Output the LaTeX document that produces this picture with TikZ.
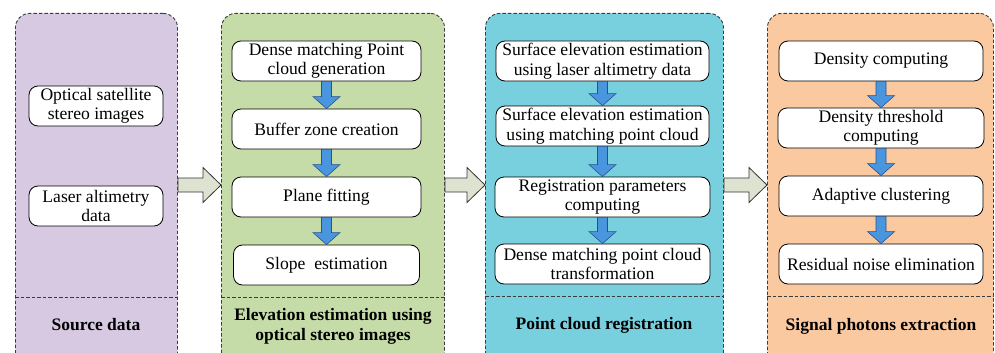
\documentclass[tikz,border=0pt]{standalone}
\usepackage{fontspec}
\setmainfont{Liberation Serif}
\usetikzlibrary{calc}
\definecolor{cpurple}{RGB}{214,201,225}
\definecolor{cgreen}{RGB}{197,219,168}
\definecolor{ccyan}{RGB}{120,208,222}
\definecolor{cpeach}{RGB}{251,201,160}
\definecolor{cbig}{RGB}{221,227,208}
\definecolor{cblue}{RGB}{74,150,222}
\definecolor{cblueline}{RGB}{40,80,140}
\definecolor{cdash}{RGB}{60,60,60}
\tikzset{
  panel/.style={draw=cdash, line width=0.9pt, dash pattern=on 3.5pt off 2pt, rounded corners=14pt, anchor=north west, inner sep=0pt},
  stepbox/.style={draw=black, line width=0.8pt, fill=white, rounded corners=9pt, align=center, inner sep=0pt, minimum height=40pt, font=\fontsize{17.6}{19.5}\selectfont},
  title/.style={align=center, font=\bfseries\fontsize{17.5}{20}\selectfont},
  divline/.style={draw=cdash, line width=0.9pt, dash pattern=on 3.5pt off 2pt},
  bluearr/.style={fill=cblue, draw=cblueline, line width=0.6pt, line join=miter},
  bigarr/.style={fill=cbig, draw=black!80, line width=0.8pt, line join=miter}
}
\newcommand{\myblockdown}[2]{%
  \path let \p1=(#1.south), \p2=(#2.north) in
    [bluearr] (\x1-5pt,\y1) -- (\x1+5pt,\y1) -- (\x1+5pt,\y2+12pt) -- (\x1+13.5pt,\y2+12pt)
    -- (\x1,\y2) -- (\x1-13.5pt,\y2+12pt) -- (\x1-5pt,\y2+12pt) -- cycle;}
\newcommand{\myblockright}[2]{%
  \path let \p1=(#1), \p2=(#2) in
    [bigarr] (\x1,\y1+7pt) -- (\x2-18pt,\y1+7pt) -- (\x2-18pt,\y1+17.5pt) -- (\x2,\y1)
    -- (\x2-18pt,\y1-17.5pt) -- (\x2-18pt,\y1-7pt) -- (\x1,\y1-7pt) -- cycle;}
\begin{document}
\begin{tikzpicture}[x=1pt,y=-1pt]
\useasboundingbox (0,0) rectangle (995,353);
\clip (0,0) rectangle (995,353);
% panels
\node[panel, fill=cpurple, minimum width=162pt, minimum height=355pt] (p1) at (15,13) {};
\node[panel, fill=cgreen, minimum width=223pt, minimum height=355pt] (p2) at (221,13) {};
\node[panel, fill=ccyan, minimum width=238pt, minimum height=355pt] (p3) at (485,13) {};
\node[panel, fill=cpeach, minimum width=226pt, minimum height=355pt] (p4) at (767,13) {};
% dividers
\draw[divline] (p1.west |- 0,297) -- (p1.east |- 0,297);
\draw[divline] (p2.west |- 0,297) -- (p2.east |- 0,297);
\draw[divline] (p3.west |- 0,296) -- (p3.east |- 0,296);
\draw[divline] (p4.west |- 0,296) -- (p4.east |- 0,296);
% titles
\node[title] (t1) at (96,325) {Source data};
\node[title] (t2) at (333,326) {Elevation estimation using\\optical stereo images};
\node[title] (t3) at (604,325) {Point cloud registration};
\node[title] (t4) at (881,326) {Signal photons extraction};
% panel 1
\node[stepbox, minimum width=134pt] (a1) at (96,106) {Optical satellite\\stereo images};
\node[stepbox, minimum width=134pt] (a2) at (96,206) {Laser altimetry\\data};
% panel 2
\node[stepbox, minimum width=189pt] (b1) at (326.5,61) {Dense matching Point\\cloud generation};
\node[stepbox, minimum width=189pt] (b2) at (326.5,129) {Buffer zone creation};
\node[stepbox, minimum width=189pt] (b3) at (326.5,197) {Plane fitting};
\node[stepbox, minimum width=186pt] (b4) at (326.5,265) {Slope\ \ estimation};
% panel 3
\node[stepbox, minimum width=213pt] (c1) at (602.5,61) {Surface elevation estimation\\using laser altimetry data};
\node[stepbox, minimum width=213pt] (c2) at (602.5,126) {Surface elevation estimation\\using matching point cloud};
\node[stepbox, minimum width=215pt] (c3) at (602.5,197) {Registration parameters\\computing};
\node[stepbox, minimum width=215pt] (c4) at (602.5,264) {Dense matching point cloud\\transformation};
% panel 4
\node[stepbox, minimum width=204pt] (d1) at (881,61) {Density computing};
\node[stepbox, minimum width=206pt] (d2) at (881,128) {Density threshold\\computing};
\node[stepbox, minimum width=204pt] (d3) at (881,196) {Adaptive clustering};
\node[stepbox, minimum width=204pt] (d4) at (881,264) {Residual noise elimination};
% blue arrows
\myblockdown{b1}{b2}\myblockdown{b2}{b3}\myblockdown{b3}{b4}
\myblockdown{c1}{c2}\myblockdown{c2}{c3}\myblockdown{c3}{c4}
\myblockdown{d1}{d2}\myblockdown{d2}{d3}\myblockdown{d3}{d4}
% big arrows
\coordinate (e1) at (p1.east |- 0,185);
\coordinate (w2) at (p2.west |- 0,185);
\coordinate (e2) at (p2.east |- 0,185);
\coordinate (w3) at (p3.west |- 0,185);
\coordinate (e3) at (p3.east |- 0,185);
\coordinate (w4) at (p4.west |- 0,185);
\myblockright{e1}{w2}
\myblockright{e2}{w3}
\myblockright{e3}{w4}
\end{tikzpicture}
\end{document}
